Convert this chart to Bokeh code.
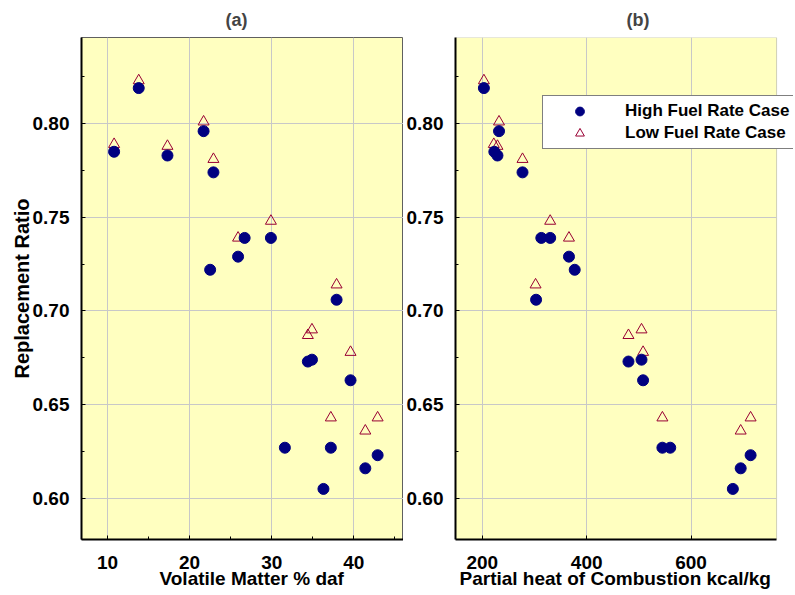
from bokeh.plotting import figure
from bokeh.layouts import row
from bokeh.models import (Range1d, FixedTicker, Legend, LegendItem, Title,
                          PrintfTickFormatter, BoxAnnotation)
from bokeh.embed import file_html
from bokeh.resources import INLINE

# High fuel rate case: one value per coal
vm_high = [10.8, 13.8, 17.3, 21.7, 22.9, 26.7, 29.9, 22.5, 25.9,
           37.9, 34.4, 34.9, 39.6, 31.6, 37.2, 36.3, 41.4, 42.9]
heat_high = [223, 203, 229, 232, 277, 313, 330, 377, 366,
             303, 480, 505, 508, 560, 545, 680, 695, 714]
ratio_high = [0.785, 0.819, 0.783, 0.796, 0.774, 0.739, 0.739, 0.722, 0.729,
              0.706, 0.673, 0.674, 0.663, 0.627, 0.627, 0.605, 0.616, 0.623]

# Low fuel rate case
vm_low = [10.8, 13.8, 17.3, 21.7, 22.9, 29.9, 25.9, 37.9, 34.4,
          34.9, 39.6, 37.2, 41.4, 42.9]
heat_low = [222, 203, 229, 232, 277, 330, 366, 302, 480,
            505, 508, 545, 695, 714]
ratio_low = [0.789, 0.823, 0.788, 0.801, 0.781, 0.748, 0.739, 0.714, 0.687,
             0.690, 0.678, 0.643, 0.636, 0.643]

y_ticks = [0.60, 0.65, 0.70, 0.75, 0.80]
y_minor = [0.575, 0.625, 0.675, 0.725, 0.775, 0.825]
y_lim = (0.578, 0.846)

FONT = "Liberation Sans"
BG = "#FFFFC0"
HIGH_COLOR = "#000080"
LOW_COLOR = "#990033"


def make_panel(title, title_offset, x, x_low, x_range, x_ticks, x_minor,
               x_label, label_offset, width, border_left, border_right, y_label=None):
    p = figure(width=width, height=592, output_backend="svg", toolbar_location=None,
               x_range=Range1d(*x_range), y_range=Range1d(*y_lim),
               min_border_left=border_left, min_border_right=border_right,
               min_border_top=36, min_border_bottom=53,
               background_fill_color=BG, border_fill_color="white",
               outline_line_color="#606060", outline_line_width=1)
    p.title.text = title
    p.title.text_font = FONT
    p.title.text_font_size = "18px"
    p.title.text_font_style = "bold"
    p.title.align = "left"
    p.title.offset = title_offset
    p.title.standoff = 15

    r_low = p.scatter(x_low, ratio_low, marker="triangle", size=11,
                      fill_color=None, line_color=LOW_COLOR, line_width=1)
    r_high = p.scatter(x, ratio_high, marker="circle", size=11,
                       fill_color=HIGH_COLOR, line_color=HIGH_COLOR)

    p.xaxis.ticker = FixedTicker(ticks=x_ticks, minor_ticks=x_minor)
    p.yaxis.ticker = FixedTicker(ticks=y_ticks, minor_ticks=y_minor)
    p.yaxis.formatter = PrintfTickFormatter(format="%.2f")
    for ax in (p.xaxis, p.yaxis):
        ax.axis_line_color = "black"
        ax.axis_line_width = 2
        ax.major_tick_in = 4
        ax.major_tick_out = 0
        ax.minor_tick_in = 3
        ax.minor_tick_out = 0
        ax.major_tick_line_color = "black"
        ax.minor_tick_line_color = "black"
        ax.major_label_text_font = FONT
        ax.major_label_text_font_size = "19px"
        ax.major_label_text_font_style = "bold"
        ax.major_label_text_color = "black"
    p.xaxis.major_label_standoff = 16
    p.yaxis.major_label_standoff = 12
    if y_label:
        p.yaxis.axis_label = y_label
        p.yaxis.axis_label_text_font = FONT
        p.yaxis.axis_label_text_font_size = "20px"
        p.yaxis.axis_label_text_font_style = "bold"
        p.yaxis.axis_label_text_color = "black"
        p.yaxis.axis_label_standoff = -3

    # x label as a title below the axis, so it can sit off-centre like the original
    p.add_layout(Title(text=x_label, align="left", offset=label_offset,
                       vertical_align="top", standoff=-8,
                       text_font=FONT, text_font_size="19px",
                       text_font_style="bold", text_color="black"), "below")

    p.grid.grid_line_color = "#C8C8C8"
    p.grid.grid_line_width = 1
    return p, r_high, r_low


p1, _, _ = make_panel("(a)", 144, vm_high, vm_low, (6.83, 46.05),
                      [10, 20, 30, 40], [15, 25, 35, 45],
                      "Volatile Matter % daf", 78, 403, 81, 0, "Replacement Ratio")

# panel (b): the frame runs to the page edge so the legend can overhang the plot box
heat_lim = (148.6, 763.8)
p2, r_high, r_low = make_panel("(b)", 171, heat_high, heat_low, (148.6, 796.2),
                               [200, 400, 600], [],
                               "Partial heat of Combustion kcal/kg", 4, 390, 50, 0)
p2.background_fill_color = "white"
p2.outline_line_color = None
p2.add_layout(BoxAnnotation(left=heat_lim[0], right=heat_lim[1],
                            bottom=y_lim[0], top=y_lim[1],
                            fill_color=BG, fill_alpha=1,
                            line_color="#606060", line_width=1, level="image"))
p2.ygrid.cross_bounds = heat_lim
p2.xaxis.bounds = heat_lim

legend = Legend(items=[LegendItem(label="High Fuel Rate Case", renderers=[r_high]),
                       LegendItem(label="Low Fuel Rate Case", renderers=[r_low])],
                location=(87, 390), margin=0, padding=4, spacing=0,
                glyph_width=65, glyph_height=22, label_height=22, label_standoff=13,
                border_line_color="black", border_line_width=1,
                background_fill_color="white", background_fill_alpha=1,
                label_text_font=FONT, label_text_font_size="17px",
                label_text_font_style="bold", label_text_color="black")
p2.add_layout(legend)

layout = row(p1, p2)
open("out.html", "w").write(file_html(layout, INLINE))
